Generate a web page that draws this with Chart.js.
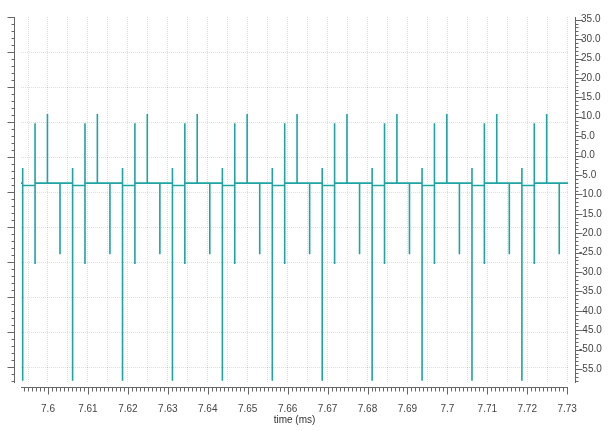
<!DOCTYPE html>
<html>
<head>
<meta charset="utf-8">
<script src="https://cdn.jsdelivr.net/npm/chart.js@4/dist/chart.umd.min.js"></script>
<style>
  html, body { margin: 0; padding: 0; background: #fff; }
  #wrap { width: 613px; height: 431px; }
</style>
</head>
<body>
<div id="wrap"><canvas id="signalChart" width="613" height="431"></canvas></div>
<script>
// Spike times (ms), one list per spike shape
const bigSpikeTimes  = [7.59366, 7.60616, 7.61866, 7.63116, 7.64366, 7.65616, 7.66866, 7.68116, 7.69366, 7.70616, 7.71866];
const pairSpikeTimes = [7.59676, 7.60926, 7.62176, 7.63426, 7.64676, 7.65926, 7.67176, 7.68426, 7.69676, 7.70926, 7.72176];
const upSpikeTimes   = [7.59986, 7.61236, 7.62486, 7.63736, 7.64986, 7.66236, 7.67486, 7.68736, 7.69986, 7.71236, 7.72486];
const downSpikeTimes = [7.60301, 7.61551, 7.62801, 7.64051, 7.65301, 7.66551, 7.67801, 7.69051, 7.70301, 7.71551, 7.72801];

// Levels (y values) of each shape
const baseLevel = -7.1;       // resting level
const lowBaseLevel = -7.7;    // level between big spike and the pair spike
const bigSpikeLevels  = [-3.2, -58.0];
const pairSpikeLevels = [8.3, -27.9];
const upSpikeLevels   = [10.7];
const downSpikeLevels = [-25.4];

// Axis ranges
const timeRange = [7.59324, 7.7302];
const rightRange = [-58.58, 35.69];
const leftRange = [-10.453, 0];

const lineColor = '#1fa3a3';
const axisColor = '#666';
const gridColor = 'rgba(0,0,0,0.13)';

function buildPoints() {
  const events = [];
  bigSpikeTimes.forEach(t => events.push({ t, levels: bigSpikeLevels, after: lowBaseLevel }));
  pairSpikeTimes.forEach(t => events.push({ t, levels: pairSpikeLevels, after: baseLevel }));
  upSpikeTimes.forEach(t => events.push({ t, levels: upSpikeLevels, after: baseLevel }));
  downSpikeTimes.forEach(t => events.push({ t, levels: downSpikeLevels, after: baseLevel }));
  events.sort((a, b) => a.t - b.t);

  const pts = [{ x: timeRange[0], y: baseLevel }];
  let level = baseLevel;
  events.forEach(ev => {
    pts.push({ x: ev.t, y: level });
    ev.levels.forEach(v => pts.push({ x: ev.t, y: v }));
    level = ev.after;
    pts.push({ x: ev.t, y: level });
  });
  pts.push({ x: timeRange[1], y: level });
  return pts;
}

// Axis lines and minor ticks, drawn a few pixels off the plot like the original
const axisFramePlugin = {
  id: 'axisFrame',
  afterDraw(chart) {
    const ctx = chart.ctx;
    const area = chart.chartArea;
    const xs = chart.scales.x, yr = chart.scales.y, yl = chart.scales.yL;
    ctx.save();
    ctx.strokeStyle = axisColor;
    ctx.lineWidth = 1;
    const seg = (x1, y1, x2, y2) => { ctx.beginPath(); ctx.moveTo(x1, y1); ctx.lineTo(x2, y2); ctx.stroke(); };

    // bottom axis
    const by = area.bottom + 4.5;
    seg(area.left, by, area.right, by);
    for (let i = Math.ceil(xs.min * 1000); i <= Math.floor(xs.max * 1000 + 1e-6); i++) {
      const px = Math.round(xs.getPixelForValue(i / 1000)) + 0.5;
      const len = i % 10 === 0 ? 7 : 4;
      seg(px, by, px, by + len);
    }

    // right axis
    const rx = area.right + 7.5;
    seg(rx, area.top, rx, area.bottom);
    for (let v = Math.ceil(yr.min); v <= Math.floor(yr.max); v++) {
      const py = Math.round(yr.getPixelForValue(v)) + 0.5;
      seg(rx, py, rx + (v % 5 === 0 ? 7 : 3), py);
    }

    // left axis (no labels)
    const lx = area.left - 6.5;
    seg(lx, area.top, lx, area.bottom);
    for (let k = Math.ceil(yl.min * 5); k <= 0; k++) {
      const py = Math.round(yl.getPixelForValue(k / 5)) + 0.5;
      seg(lx, py, lx - (k % 5 === 0 ? 7 : 3), py);
    }
    ctx.restore();
  }
};

function renderSignalChart() {
  const ctx = document.getElementById('signalChart').getContext('2d');
  const tickFont = { family: 'Liberation Sans, Arial, sans-serif', size: 10 };

  new Chart(ctx, {
    type: 'line',
    data: {
      datasets: [{
        data: buildPoints(),
        borderColor: lineColor,
        borderWidth: 1.6,
        pointRadius: 0,
        tension: 0,
        fill: false,
        yAxisID: 'y'
      }]
    },
    options: {
      responsive: false,
      animation: false,
      devicePixelRatio: 1,
      layout: { padding: { top: 14, left: 0, right: 0, bottom: 0 } },
      plugins: { legend: { display: false }, tooltip: { enabled: false } },
      scales: {
        x: {
          type: 'linear',
          min: timeRange[0],
          max: timeRange[1],
          border: { display: false, dash: [1, 1] },
          grid: { color: gridColor, drawTicks: false },
          ticks: {
            stepSize: 0.005,
            autoSkip: false,
            maxRotation: 0,
            includeBounds: false,
            padding: 20,
            color: '#444',
            font: tickFont,
            callback: v => {
              const c = v * 100;
              return Math.abs(c - Math.round(c)) < 1e-6 ? String(Number(v.toFixed(2))) : '';
            }
          },
          title: { display: true, text: 'time (ms)', color: '#333', font: tickFont, padding: { top: 0, bottom: 5 } },
          afterFit: s => { s.height = 48; }
        },
        yL: {
          type: 'linear',
          position: 'left',
          display: true,
          min: leftRange[0],
          max: leftRange[1],
          border: { display: false, dash: [1, 1] },
          grid: {
            drawTicks: false,
            color: c => (c.tick && c.tick.value === 0 ? 'rgba(0,0,0,0)' : gridColor)
          },
          ticks: { display: false, stepSize: 1, includeBounds: false },
          afterFit: s => { s.width = 21; }
        },
        y: {
          type: 'linear',
          position: 'right',
          min: rightRange[0],
          max: rightRange[1],
          border: { display: false },
          grid: { drawOnChartArea: false, drawTicks: false },
          ticks: {
            stepSize: 5,
            includeBounds: false,
            padding: 11,
            color: '#444',
            font: tickFont,
            // positive labels start a touch to the right, as in the original
            callback: v => (v < 0 ? '' : '\u2009') + v.toFixed(1)
          },
          afterFit: s => { s.width = 45; }
        }
      }
    },
    plugins: [axisFramePlugin]
  });
}

renderSignalChart();
</script>
</body>
</html>
